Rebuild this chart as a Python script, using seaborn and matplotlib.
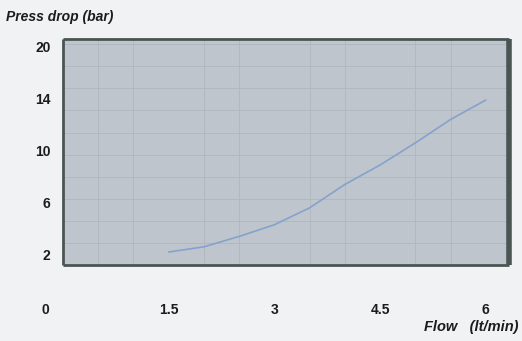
import matplotlib
matplotlib.use("Agg")
import matplotlib.pyplot as plt
import matplotlib.transforms as mtransforms
from matplotlib.ticker import FixedLocator, MultipleLocator
import numpy as np
import pandas as pd
import seaborn as sns

# values
flow = [1.5, 2.0, 2.5, 3.0, 3.5, 4.0, 4.5, 5.0, 5.5, 6.0]
pressure = [2.2, 2.6, 3.4, 4.3, 5.6, 7.4, 8.9, 10.6, 12.4, 13.9]
x_ticks = [0, 1.5, 3, 4.5, 6]
x_tick_labels = ["0", "1.5", "3", "4.5", "6"]
y_ticks = [2, 6, 10, 14, 20]
y_tick_labels = ["2", "6", "10", "14", "20"]

df = pd.DataFrame({"flow": flow, "pressure": pressure})

sns.set_theme(style="white")
plt.rcParams["font.family"] = ["Liberation Sans", "DejaVu Sans"]

bg = "#f1f2f4"
face = "#bec5cd"
edge = "#4a5553"
grid_c = "#b0b6bd"
line_c = "#86a2cc"


# the axis is evenly spaced 2, 6, 10, 14 and then 20, so squeeze the top part
def fwd(v):
    v = np.asarray(v, dtype=float)
    return np.where(v <= 14, v, 14 + (v - 14) * 4 / 6)


def inv(t):
    t = np.asarray(t, dtype=float)
    return np.where(t <= 14, t, 14 + (t - 14) * 6 / 4)


fig = plt.figure(figsize=(5.22, 3.41), dpi=100, facecolor=bg)
ax = fig.add_axes([63 / 522, 1 - 265 / 341, 446 / 522, 226 / 341])
ax.set_facecolor(face)

sns.lineplot(data=df, x="flow", y="pressure", ax=ax, color=line_c, linewidth=1.2)

ax.set_yscale("function", functions=(fwd, inv))
ax.set_xlim(0, 6.33)
ax.set_ylim(1.2, 20.9)

ax.set_xticks(x_ticks)
ax.set_xticklabels(x_tick_labels)
ax.set_yticks(y_ticks)
ax.set_yticklabels(y_tick_labels)

# fine grid
ax.xaxis.set_minor_locator(MultipleLocator(0.5))
ax.yaxis.set_minor_locator(FixedLocator(inv(np.arange(1.2, 18.7, 1.7))))
ax.grid(which="minor", color=grid_c, linewidth=0.6)
ax.grid(which="major", visible=False)
ax.tick_params(which="both", length=0)
ax.tick_params(axis="x", pad=27, labelsize=10, labelcolor="#1c1c1c")
ax.tick_params(axis="y", pad=9, labelsize=10, labelcolor="#1c1c1c")
for lab in ax.get_xticklabels() + ax.get_yticklabels():
    lab.set_fontweight("bold")

# the "0" sits in the y label column
zero = ax.get_xticklabels()[0]
zero.set_transform(zero.get_transform() + mtransforms.ScaledTranslation(-18 / 100, 0, fig.dpi_scale_trans))

for side, sp in ax.spines.items():
    sp.set_visible(True)
    sp.set_color(edge)
    sp.set_linewidth(2)
    sp.set_capstyle("butt")
ax.spines["right"].set_linewidth(4)

ax.set_xlabel("")
ax.set_ylabel("")
fig.text(6 / 522, 1 - 17 / 341, "Press drop (bar)", fontsize=10, style="italic",
         fontweight="bold", color="#1c1c1c", va="center", ha="left")
fig.text(518 / 522, 1 - 327 / 341, "Flow   (lt/min)", fontsize=10.5, style="italic",
         fontweight="bold", color="#1c1c1c", va="center", ha="right")

fig.savefig("out.png", dpi=100, facecolor=bg)
